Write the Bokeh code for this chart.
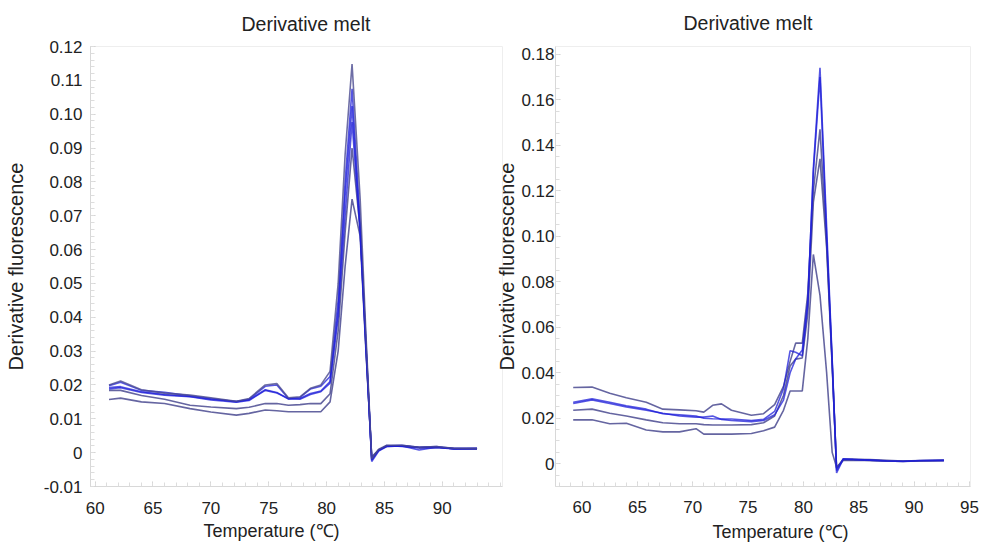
from bokeh.plotting import figure
from bokeh.layouts import row
from bokeh.models import FixedTicker, CustomJSTickFormatter, Title
from bokeh.embed import file_html
from bokeh.resources import INLINE

# ---------------- data: left chart ----------------
temp_left = [61.2, 62.2, 64.0, 66.0, 68.2, 70.0, 72.2, 73.3, 74.7, 75.7, 76.7, 77.7, 78.6, 79.5,
             80.3, 81.0, 81.6, 82.2, 82.9, 83.4, 83.9, 84.5, 85.2, 86.5, 88.0, 89.5, 91.0, 93.0]
left_s1 = [0.0198, 0.0208, 0.0184, 0.0178, 0.0168, 0.0160, 0.0150, 0.0158, 0.0196, 0.0200, 0.0160, 0.0163, 0.0188, 0.0196,
           0.0225, 0.045, 0.080, 0.1075, 0.068, 0.033, -0.0022, 0.0008, 0.0020, 0.0022, 0.0016, 0.0018, 0.0012, 0.0012]
left_s2 = [0.0192, 0.0195, 0.0180, 0.0172, 0.0166, 0.0158, 0.0152, 0.0156, 0.0186, 0.0178, 0.0158, 0.0160, 0.0175, 0.0182,
           0.0210, 0.042, 0.076, 0.1024, 0.066, 0.032, -0.0026, 0.0005, 0.0018, 0.0020, 0.0008, 0.0016, 0.0012, 0.0012]
left_s3 = [0.0188, 0.0192, 0.0178, 0.0170, 0.0165, 0.0156, 0.0149, 0.0154, 0.0184, 0.0176, 0.0160, 0.0158, 0.0172, 0.0180,
           0.0205, 0.040, 0.070, 0.0977, 0.065, 0.031, -0.0020, 0.0006, 0.0021, 0.0018, 0.0014, 0.0015, 0.0011, 0.0012]
left_s4 = [0.0200, 0.0212, 0.0186, 0.0176, 0.0170, 0.0162, 0.0152, 0.0160, 0.0200, 0.0204, 0.0162, 0.0165, 0.0190, 0.0200,
           0.0240, 0.050, 0.088, 0.1148, 0.075, 0.035, -0.0018, 0.0010, 0.0022, 0.0022, 0.0016, 0.0018, 0.0013, 0.0012]
left_s5 = [0.0184, 0.0184, 0.0169, 0.0158, 0.0140, 0.0135, 0.0130, 0.0134, 0.0145, 0.0145, 0.0140, 0.0142, 0.0145, 0.0145,
           0.0174, 0.036, 0.065, 0.0900, 0.066, 0.031, -0.0015, 0.0008, 0.0020, 0.0020, 0.0015, 0.0016, 0.0012, 0.0012]
left_s6 = [0.0157, 0.0161, 0.0150, 0.0145, 0.0130, 0.0120, 0.0111, 0.0116, 0.0126, 0.0124, 0.0121, 0.0121, 0.0121, 0.0121,
           0.0150, 0.030, 0.055, 0.0749, 0.064, 0.030, -0.0012, 0.0008, 0.0018, 0.0020, 0.0015, 0.0016, 0.0012, 0.0012]

# ---------------- data: right chart ----------------
temp_right = [59.2, 60.9, 62.5, 64.0, 65.8, 67.3, 68.8, 70.3, 71.0, 71.8, 72.6, 73.5, 75.3, 76.4, 77.4, 78.2,
              78.8, 79.3, 79.9, 80.4, 80.9, 81.5, 82.1, 82.6, 83.0, 83.6, 84.5, 86.0, 87.5, 89.0, 90.5, 92.7]
right_a = [0.0335, 0.0337, 0.0310, 0.0290, 0.0270, 0.0240, 0.0237, 0.0233, 0.0227, 0.0257, 0.0263, 0.0235, 0.0213, 0.0220, 0.0260, 0.0340,
           0.0450, 0.0530, 0.0530, 0.075, 0.120, 0.147, 0.097, 0.044, -0.0020, 0.0020, 0.0020, 0.0018, 0.0015, 0.0012, 0.0014, 0.0015]
right_b = [0.0270, 0.0285, 0.0270, 0.0255, 0.0240, 0.0220, 0.0215, 0.0210, 0.0200, 0.0198, 0.0197, 0.0197, 0.0190, 0.0195, 0.0230, 0.0330,
           0.0497, 0.0490, 0.0475, 0.070, 0.130, 0.174, 0.104, 0.046, -0.0030, 0.0022, 0.0020, 0.0016, 0.0012, 0.0010, 0.0014, 0.0015]
right_e = [0.0265, 0.0280, 0.0265, 0.0250, 0.0235, 0.0222, 0.0210, 0.0205, 0.0205, 0.0210, 0.0195, 0.0190, 0.0185, 0.0190, 0.0215, 0.0280,
           0.0400, 0.0460, 0.0500, 0.072, 0.128, 0.170, 0.100, 0.045, -0.0040, 0.0020, 0.0018, 0.0016, 0.0013, 0.0011, 0.0013, 0.0015]
right_c = [0.0235, 0.0240, 0.0222, 0.0210, 0.0193, 0.0180, 0.0176, 0.0176, 0.0172, 0.0170, 0.0170, 0.0170, 0.0172, 0.0180, 0.0210, 0.0300,
           0.0430, 0.0460, 0.0465, 0.066, 0.115, 0.134, 0.095, 0.043, -0.0020, 0.0018, 0.0018, 0.0015, 0.0012, 0.0011, 0.0013, 0.0014]
right_d = [0.0193, 0.0193, 0.0176, 0.0178, 0.0148, 0.0140, 0.0140, 0.0154, 0.0130, 0.0130, 0.0130, 0.0130, 0.0133, 0.0145, 0.0161, 0.0235,
           0.0320, 0.0320, 0.0320, 0.055, 0.092, 0.074, 0.040, 0.005, -0.0015, 0.0015, 0.0016, 0.0015, 0.0012, 0.0010, 0.0012, 0.0014]

# ---------------- axis ticks / labels ----------------
title_text = "Derivative melt"
x_label = "Temperature (\u2103)"
y_label = "Derivative fluorescence"
x_ticks_left = [60, 65, 70, 75, 80, 85, 90]
x_ticks_right = [60, 65, 70, 75, 80, 85, 90, 95]
y_ticks_left = [round(-0.01 + 0.01 * i, 2) for i in range(14)]
y_ticks_right = [round(0.02 * i, 2) for i in range(10)]

SLATE = "#4a4a90"
BLUE = "#1e1ed8"
FONT = "Liberation Sans"
TEXT = "#222222"


def style(p, xt, xminor, yt, yminor):
    p.xaxis.ticker = FixedTicker(ticks=xt, minor_ticks=xminor)
    p.yaxis.ticker = FixedTicker(ticks=yt, minor_ticks=yminor)
    p.yaxis.formatter = CustomJSTickFormatter(
        code="if (Math.abs(tick) < 1e-9) { return '0'; } return tick.toFixed(2);")
    p.xgrid.visible = False
    p.ygrid.visible = False
    p.outline_line_color = "#eeeeee"
    for ax in (p.xaxis[0], p.yaxis[0]):
        ax.axis_line_color = "#d8d8d8"
        ax.major_tick_line_color = "#cfcfcf"
        ax.minor_tick_line_color = "#dddddd"
        ax.major_tick_in = 5
        ax.major_tick_out = 0
        ax.minor_tick_in = 4
        ax.minor_tick_out = 0
        ax.major_label_text_font = FONT
        ax.major_label_text_font_size = "17px"
        ax.major_label_text_color = TEXT
        ax.axis_label_text_font = FONT
        ax.axis_label_text_font_style = "normal"
        ax.axis_label_text_color = TEXT
    p.yaxis.axis_label_text_font_size = "20px"
    p.background_fill_color = "white"


def set_title(p, offset, standoff):
    p.title.text = title_text
    p.title.text_font = FONT
    p.title.text_font_size = "19.5px"
    p.title.text_font_style = "normal"
    p.title.text_color = TEXT
    p.title.align = "left"
    p.title.offset = offset
    p.title.vertical_align = "top"
    p.title.standoff = standoff


def add_xlabel(p, offset, standoff):
    p.add_layout(Title(text=x_label, text_font=FONT, text_font_size="18px",
                       text_font_style="normal", text_color=TEXT, align="left",
                       offset=offset, vertical_align="top", standoff=standoff), "below")


# ---------------- left chart ----------------
p1 = figure(width=504, height=550, x_range=(59.6, 95.2), y_range=(-0.01, 0.12),
            output_backend="svg", toolbar_location=None, y_axis_label=y_label,
            min_border_left=90, min_border_right=2, min_border_top=44, min_border_bottom=56)
style(p1, x_ticks_left, [v for v in range(60, 96)],
      y_ticks_left, [round(-0.01 + 0.002 * i, 3) for i in range(66)])
p1.border_fill_color = "white"
p1.xaxis.major_label_standoff = 15
p1.yaxis.major_label_standoff = 8
p1.yaxis.axis_label_standoff = 14
set_title(p1, 151, 20)
add_xlabel(p1, 113, 9)

for ys, col, alpha in [(left_s6, SLATE, 0.85), (left_s5, SLATE, 0.85), (left_s3, BLUE, 0.75),
                       (left_s2, BLUE, 0.75), (left_s1, BLUE, 0.75), (left_s4, SLATE, 0.8)]:
    p1.line(temp_left, ys, line_color=col, line_width=1.6, line_alpha=alpha)

# ---------------- right chart ----------------
p2 = figure(width=504, height=550, x_range=(57.6, 95.1), y_range=(-0.01, 0.1834),
            output_backend="svg", toolbar_location=None, y_axis_label=y_label,
            min_border_left=72, min_border_right=17, min_border_top=46, min_border_bottom=60)
style(p2, x_ticks_right, [v for v in range(58, 96)],
      y_ticks_right, [round(-0.01 + 0.005 * i, 3) for i in range(39)])
p2.border_fill_alpha = 0.0
p2.margin = (0, 0, 0, -21)
p2.xaxis.major_label_standoff = 14
p2.yaxis.major_label_standoff = 1
p2.yaxis.axis_label_standoff = 0
set_title(p2, 128, 22)
add_xlabel(p2, 157, 13)

for ys, col, alpha in [(right_d, SLATE, 0.85), (right_c, SLATE, 0.85), (right_a, SLATE, 0.85),
                       (right_e, BLUE, 0.75), (right_b, BLUE, 0.75)]:
    p2.line(temp_right, ys, line_color=col, line_width=1.6, line_alpha=alpha)

layout = row(p1, p2)
open("out.html", "w").write(file_html(layout, INLINE))
